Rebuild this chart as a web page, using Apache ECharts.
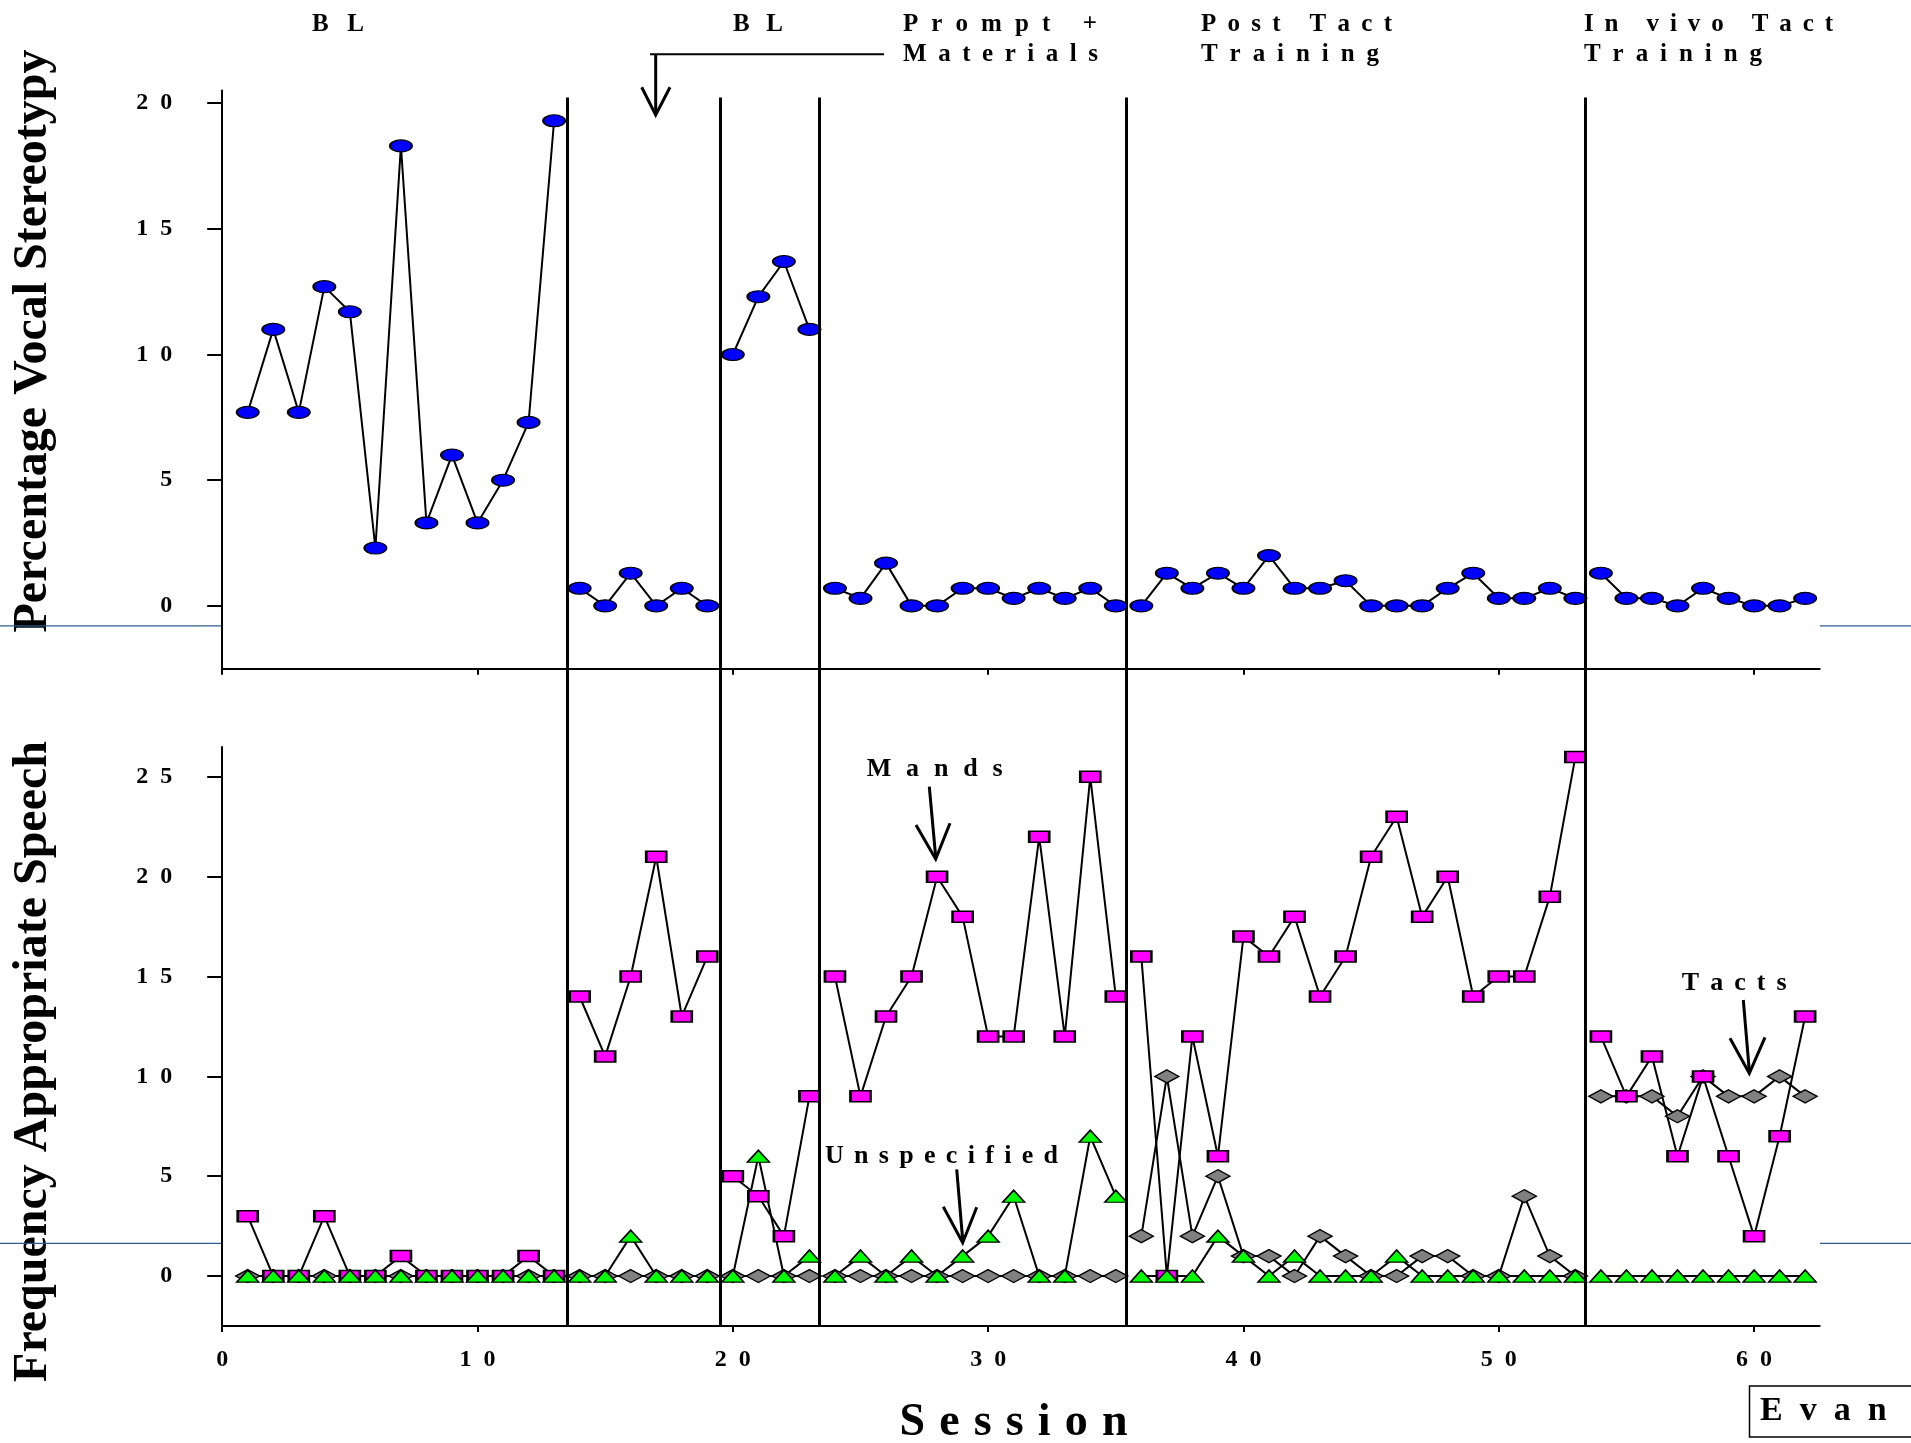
<!DOCTYPE html>
<html>
<head>
<meta charset="utf-8">
<title>Evan – vocal stereotypy and appropriate speech</title>
<script src="https://cdn.jsdelivr.net/npm/echarts@6/dist/echarts.min.js"></script>
<style>
  html, body { margin: 0; padding: 0; background: #fff; }
  #chart { width: 1911px; height: 1443px; }
</style>
</head>
<body>
<div id="chart"></div>
<script>
// ---- data -------------------------------------------------------------
const sessions = [1, 2, 3, 4, 5, 6, 7, 8, 9, 10, 11, 12, 13, 14, 15, 16, 17, 18, 19, 20,
  21, 22, 23, 24, 25, 26, 27, 28, 29, 30, 31, 32, 33, 34, 35, 36, 37, 38, 39, 40,
  41, 42, 43, 44, 45, 46, 47, 48, 49, 50, 51, 52, 53, 54, 55, 56, 57, 58, 59, 60, 61, 62];

// Percentage of intervals with vocal stereotypy
const stereotypy = [7.7, 11.0, 7.7, 12.7, 11.7, 2.3, 18.3, 3.3, 6.0, 3.3, 5.0, 7.3, 19.3,
  0.7, 0, 1.3, 0, 0.7, 0,
  10.0, 12.3, 13.7, 11.0,
  0.7, 0.3, 1.7, 0, 0, 0.7, 0.7, 0.3, 0.7, 0.3, 0.7, 0,
  0, 1.3, 0.7, 1.3, 0.7, 2.0, 0.7, 0.7, 1.0, 0, 0, 0, 0.7, 1.3, 0.3, 0.3, 0.7, 0.3,
  1.3, 0.3, 0.3, 0, 0.7, 0.3, 0, 0, 0.3];

// Frequency of appropriate speech
const mands = [3, 0, 0, 3, 0, 0, 1, 0, 0, 0, 0, 1, 0,
  14, 11, 15, 21, 13, 16,
  5, 4, 2, 9,
  15, 9, 13, 15, 20, 18, 12, 12, 22, 12, 25, 14,
  16, 0, 12, 6, 17, 16, 18, 14, 16, 21, 23, 18, 20, 14, 15, 15, 19, 26,
  12, 9, 11, 6, 10, 6, 2, 7, 13];

const unspecified = [0, 0, 0, 0, 0, 0, 0, 0, 0, 0, 0, 0, 0,
  0, 0, 2, 0, 0, 0,
  0, 6, 0, 1,
  0, 1, 0, 1, 0, 1, 2, 4, 0, 0, 7, 4,
  0, 0, 0, 2, 1, 0, 1, 0, 0, 0, 1, 0, 0, 0, 0, 0, 0, 0,
  0, 0, 0, 0, 0, 0, 0, 0, 0];

const tacts = [0, 0, 0, 0, 0, 0, 0, 0, 0, 0, 0, 0, 0,
  0, 0, 0, 0, 0, 0,
  0, 0, 0, 0,
  0, 0, 0, 0, 0, 0, 0, 0, 0, 0, 0, 0,
  2, 10, 2, 5, 1, 1, 0, 2, 1, 0, 0, 1, 1, 0, 0, 4, 1, 0,
  9, 9, 9, 8, 10, 9, 9, 10, 9];

// Phase-change lines (between sessions)
const phaseChanges = [13.5, 19.5, 23.4, 35.4, 53.4];

// Axis tick values
const sessionTicks = [0, 10, 20, 30, 40, 50, 60];
const stereotypyTicks = [0, 5, 10, 15, 20];
const speechTicks = [0, 5, 10, 15, 20, 25];

// ---- helpers ----------------------------------------------------------
const FONT = '"Liberation Serif", "Times New Roman", serif';
const measureCtx = document.createElement('canvas').getContext('2d');
function textWidth(s, size) {
  measureCtx.font = 'bold ' + size + 'px ' + FONT;
  return measureCtx.measureText(s).width;
}
// Letter-spaced bold text spread over a given total width, left edge at x
function spacedText(str, x, cy, size, totalWidth) {
  const chars = str.split('');
  const widths = chars.map(c => textWidth(c, size));
  const sum = widths.reduce((a, b) => a + b, 0);
  const gap = chars.length > 1 ? (totalWidth - sum) / (chars.length - 1) : 0;
  const out = [];
  let cx = x;
  chars.forEach((c, i) => {
    if (c !== ' ') {
      out.push({
        type: 'text', x: cx, y: cy, silent: true,
        style: { text: c, font: 'bold ' + size + 'px ' + FONT, fill: '#000',
                 textAlign: 'left', textVerticalAlign: 'middle', align: 'left', verticalAlign: 'middle' }
      });
    }
    cx += widths[i] + gap;
  });
  return out;
}
function poly(points, width, color) {
  return { type: 'polyline', silent: true, shape: { points: points },
           style: { stroke: color || '#000', lineWidth: width, fill: null, lineCap: 'butt', lineJoin: 'miter' } };
}
function spacedDigits(v) { return String(v).split('').join('  '); }

// Split a series into one run per experimental phase so lines break at phase changes
function phaseRuns(values) {
  const runs = [[]];
  let b = 0;
  sessions.forEach((s, i) => {
    while (b < phaseChanges.length && s > phaseChanges[b]) { runs.push([]); b++; }
    runs[runs.length - 1].push([s, values[i]]);
  });
  return runs;
}

const ellipse = 'path://M0,1A1,1,0,1,1,2,1A1,1,0,1,1,0,1Z';
function lineSeries(values, gridIdx, symbol, size, color, borderW) {
  return phaseRuns(values).map(run => ({
    type: 'line', xAxisIndex: gridIdx, yAxisIndex: gridIdx, data: run,
    symbol: symbol, symbolSize: size, showSymbol: true, silent: true,
    lineStyle: { color: '#000', width: 2 },
    itemStyle: { color: color, borderColor: '#000', borderWidth: borderW, opacity: 1 },
    emphasis: { disabled: true }, animation: false
  }));
}

// ---- layout -----------------------------------------------------------
const LEFT = 222.2, RIGHT = 91.3, XMAX = 62.57;
const labelFont = { fontFamily: FONT, fontWeight: 'bold', fontSize: 24, color: '#000' };

function xAxisDef(gridIndex, showLabels) {
  return {
    type: 'value', gridIndex: gridIndex, min: 0, max: XMAX,
    axisLine: { show: true, onZero: false, lineStyle: { color: '#000', width: 2 } },
    axisTick: { show: true, length: 6, lineStyle: { color: '#000', width: 2 }, customValues: sessionTicks },
    axisLabel: Object.assign({ show: showLabels, margin: 22, customValues: sessionTicks,
      formatter: spacedDigits }, labelFont),
    splitLine: { show: false }
  };
}
function yAxisDef(gridIndex, min, max, ticks) {
  return {
    type: 'value', gridIndex: gridIndex, min: min, max: max,
    axisLine: { show: true, onZero: false, lineStyle: { color: '#000', width: 2 } },
    axisTick: { show: true, length: 15, lineStyle: { color: '#000', width: 2 }, customValues: ticks },
    axisLabel: Object.assign({ margin: 50, customValues: ticks, formatter: spacedDigits }, labelFont),
    splitLine: { show: false }
  };
}

const series = [].concat(
  lineSeries(stereotypy, 0, ellipse, [22, 12], '#0000ff', 1.5),
  lineSeries(tacts, 1, 'diamond', [24, 13], '#808080', 1.5),
  lineSeries(mands, 1, 'rect', [20, 11], '#ff00ff', 2),
  lineSeries(unspecified, 1, 'triangle', [22, 12], '#00ff00', 1.5),
  [{
    type: 'line', xAxisIndex: 2, yAxisIndex: 2, data: [], silent: true, animation: false,
    markLine: {
      silent: true, symbol: 'none', animation: false,
      label: { show: false },
      lineStyle: { color: '#000', width: 3, type: 'solid' },
      emphasis: { disabled: true },
      data: phaseChanges.map(x => ({ xAxis: x }))
    }
  }]
);

// ---- annotations ------------------------------------------------------
const graphics = [].concat(
  // axis titles
  [{
    type: 'text', x: 34, y: 341, rotation: Math.PI / 2, silent: true,
    style: { text: 'Percentage Vocal Stereotypy', font: 'bold 48px ' + FONT, fill: '#000',
             textAlign: 'center', textVerticalAlign: 'middle', align: 'center', verticalAlign: 'middle' }
  }, {
    type: 'text', x: 34, y: 1061.5, rotation: Math.PI / 2, silent: true,
    style: { text: 'Frequency Appropriate Speech', font: 'bold 48px ' + FONT, fill: '#000',
             textAlign: 'center', textVerticalAlign: 'middle', align: 'center', verticalAlign: 'middle' }
  }],
  spacedText('Session', 899.5, 1423, 46, 228),
  // phase labels
  spacedText('B L', 312, 25, 25, 52),
  spacedText('B L', 733, 25, 25, 50),
  spacedText('Prompt +', 903, 25, 25, 194),
  spacedText('Materials', 903, 55, 25, 195),
  spacedText('Post Tact', 1201, 25, 25, 191),
  spacedText('Training', 1201, 55, 25, 178),
  spacedText('In vivo Tact', 1584, 25, 25, 249),
  spacedText('Training', 1584, 55, 25, 178),
  // reversal bracket
  [poly([[650, 54.3], [884, 54.3]], 2),
   poly([[655.7, 54.3], [655.7, 113]], 3),
   poly([[641.7, 87.3], [655.7, 115], [670, 87.3]], 3)],
  // series labels with arrows
  spacedText('Mands', 866.7, 769.5, 26, 136),
  [poly([[929.3, 786.7], [935.7, 857]], 3),
   poly([[916, 825], [935.7, 859], [950, 823.3]], 3)],
  spacedText('Unspecified', 825, 1156.7, 26, 233),
  [poly([[956.7, 1169.3], [962.7, 1240]], 3),
   poly([[943.3, 1206.7], [962.7, 1242.7], [976.7, 1207.3]], 3)],
  spacedText('Tacts', 1681.7, 982.8, 26, 105),
  [poly([[1743.3, 1000], [1749.3, 1071]], 3),
   poly([[1730, 1038.3], [1749.3, 1073.3], [1765, 1037.3]], 3)],
  // participant box
  [{ type: 'rect', silent: true, shape: { x: 1749.5, y: 1386, width: 200, height: 51 },
     style: { fill: '#fff', stroke: '#000', lineWidth: 1.5 } }],
  spacedText('Evan', 1760, 1411.7, 34, 126.7),
  // thin rules in the margins
  [poly([[0, 625.8], [221, 625.8]], 1.2, '#2f5d8f'),
   poly([[1820, 625.8], [1911, 625.8]], 1.2, '#2f5d8f'),
   poly([[0, 1243.4], [221, 1243.4]], 1.2, '#2f5d8f'),
   poly([[1820, 1243.4], [1911, 1243.4]], 1.2, '#2f5d8f')]
);

const option = {
  backgroundColor: '#fff',
  animation: false,
  grid: [
    { left: LEFT, right: RIGHT, top: 90.6, bottom: 1443 - 668.7, outerBoundsMode: 'none', containLabel: false },
    { left: LEFT, right: RIGHT, top: 746.9, bottom: 1443 - 1326, outerBoundsMode: 'none', containLabel: false },
    { left: LEFT, right: RIGHT, top: 97.5, bottom: 1443 - 1326, outerBoundsMode: 'none', containLabel: false }
  ],
  xAxis: [
    xAxisDef(0, false),
    xAxisDef(1, true),
    { type: 'value', gridIndex: 2, min: 0, max: XMAX, show: false }
  ],
  yAxis: [
    yAxisDef(0, -2.5, 20.5, stereotypyTicks),
    yAxisDef(1, -2.5, 26.5, speechTicks),
    { type: 'value', gridIndex: 2, min: 0, max: 1, show: false }
  ],
  series: series,
  graphic: { elements: graphics }
};

const chart = echarts.init(document.getElementById('chart'), null, { renderer: 'canvas' });
chart.setOption(option);
</script>
</body>
</html>
